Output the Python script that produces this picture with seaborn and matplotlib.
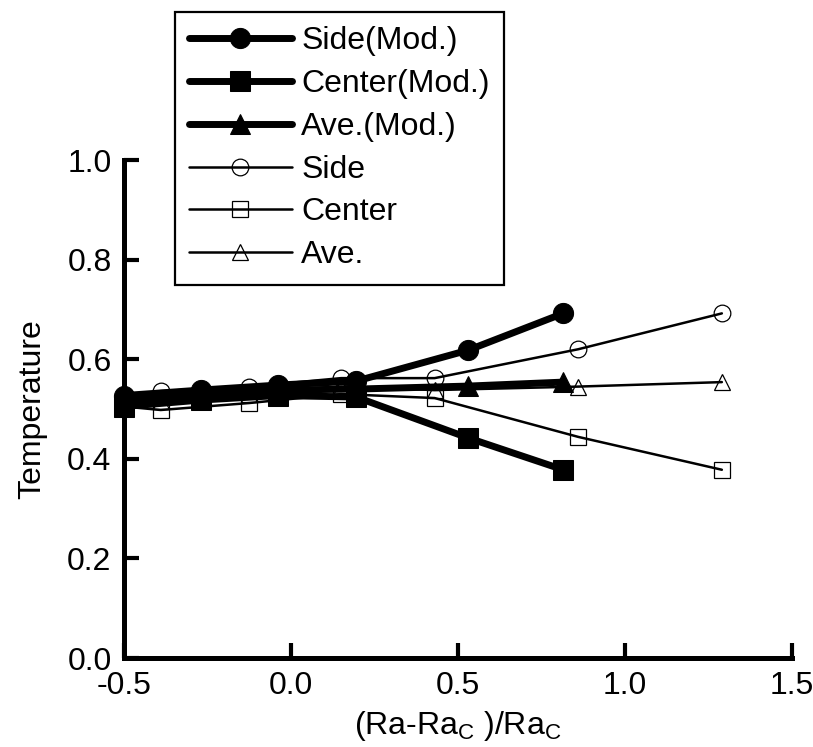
import numpy as np
import pandas as pd
import matplotlib
matplotlib.use("Agg")
import matplotlib.pyplot as plt
import seaborn as sns

# Normalised Rayleigh number positions
x_mod = [-0.5, -0.27, -0.04, 0.195, 0.53, 0.815]
x_std = [-0.5, -0.39, -0.125, 0.15, 0.43, 0.86, 1.29]

# Temperatures, modified model
side_mod = [0.527, 0.538, 0.548, 0.556, 0.618, 0.692]
center_mod = [0.505, 0.518, 0.527, 0.524, 0.442, 0.378]
ave_mod = [0.516, 0.528, 0.538, 0.540, 0.546, 0.554]

# Temperatures, standard model
side_std = [0.527, 0.536, 0.545, 0.562, 0.562, 0.620, 0.692]
center_std = [0.505, 0.498, 0.512, 0.530, 0.522, 0.444, 0.378]
ave_std = [0.516, 0.517, 0.530, 0.545, 0.538, 0.545, 0.554]

x_ticks = [-0.5, 0.0, 0.5, 1.0, 1.5]
y_ticks = [0.0, 0.2, 0.4, 0.6, 0.8, 1.0]

sns.set_style("ticks")
plt.rcParams["font.family"] = ["Liberation Sans", "DejaVu Sans"]
plt.rcParams["mathtext.fontset"] = "custom"
plt.rcParams["mathtext.rm"] = "Liberation Sans"
plt.rcParams["text.color"] = "black"
plt.rcParams["axes.labelcolor"] = "black"

fig = plt.figure(figsize=(8.13, 7.47), dpi=100)
ax = fig.add_axes([124 / 813, 1 - 658 / 747, (792 - 124) / 813, (658 - 160) / 747])

series = [
    ("Side(Mod.)", x_mod, side_mod, "o", True),
    ("Center(Mod.)", x_mod, center_mod, "s", True),
    ("Ave.(Mod.)", x_mod, ave_mod, "^", True),
    ("Side", x_std, side_std, "o", False),
    ("Center", x_std, center_std, "s", False),
    ("Ave.", x_std, ave_std, "^", False),
]

for label, xs, ys, mk, heavy in series:
    df = pd.DataFrame({"x": xs, "y": ys})
    if heavy:
        style = dict(color="black", linewidth=5, marker=mk, markersize=14.5,
                     markerfacecolor="black", markeredgecolor="black", zorder=3)
    else:
        style = dict(color="black", linewidth=1.8, marker=mk, markersize=12,
                     markerfacecolor="none", markeredgecolor="black",
                     markeredgewidth=0.9, zorder=2)
    sns.lineplot(data=df, x="x", y="y", ax=ax, sort=False, estimator=None,
                 label=label, clip_on=False, **style)

ax.set_xlim(-0.5, 1.5)
ax.set_ylim(0.0, 1.0)
ax.set_xticks(x_ticks)
ax.set_yticks(y_ticks)
ax.set_xticklabels([f"{v:.1f}" for v in x_ticks])
ax.set_yticklabels([f"{v:.1f}" for v in y_ticks])
ax.tick_params(direction="in", length=11, width=3, labelsize=23, pad=9,
               colors="black", labelcolor="black")

for s in ["top", "right"]:
    ax.spines[s].set_visible(False)
for s in ["left", "bottom"]:
    ax.spines[s].set_linewidth(3.6)
    ax.spines[s].set_color("black")

ax.set_xlabel(r"(Ra-Ra$_\mathregular{C}$ )/Ra$_\mathregular{C}$", fontsize=23, labelpad=6)
ax.set_ylabel("Temperature", fontsize=23, labelpad=14)

leg = ax.legend(loc="upper left", bbox_to_anchor=(175 / 813, 1 - 12 / 747),
                bbox_transform=fig.transFigure, fontsize=23, frameon=True,
                fancybox=False, handlelength=3.2, handletextpad=0.3,
                labelspacing=0.4, borderpad=0.45, borderaxespad=0)
leg.get_frame().set_edgecolor("black")
leg.get_frame().set_linewidth(1.6)
leg.get_frame().set_alpha(1)
for t in leg.get_texts():
    t.set_color("black")

fig.savefig("out.png", dpi=100, facecolor="white")
